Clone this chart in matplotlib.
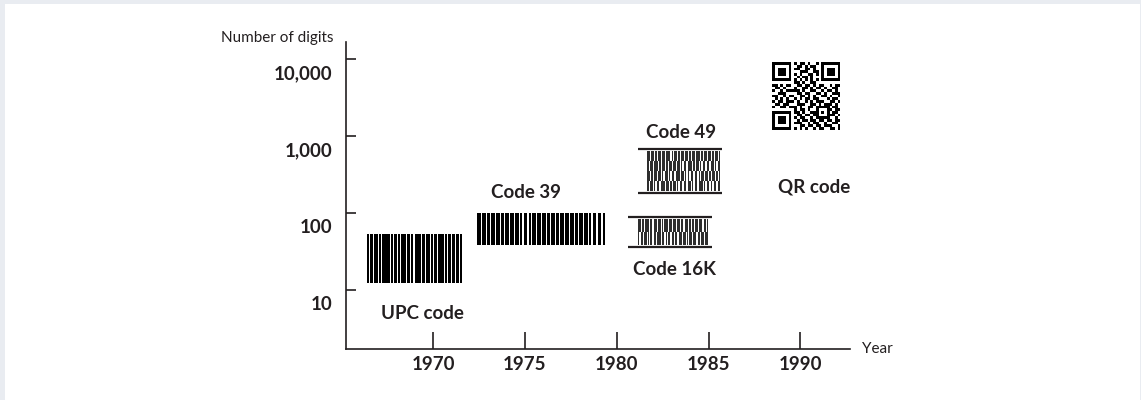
import numpy as np
import matplotlib
matplotlib.use('Agg')
import matplotlib.pyplot as plt
import matplotlib.transforms as mtransforms
from matplotlib.patches import Rectangle

plt.rcParams['font.family'] = ['Lato', 'DejaVu Sans']

# axis ticks
year_ticks = [1970, 1975, 1980, 1985, 1990]
digit_ticks = [10, 100, 1000, 10000]
digit_labels = ["10", "100", "1,000", "10,000"]

# symbologies: name, year span, digit span
codes = ["UPC code", "Code 39", "Code 16K", "Code 49", "QR code"]
code_years = [(1966.4, 1971.58), (1972.4, 1979.37), (1980.63, 1985.2), (1981.17, 1985.75), (1988.47, 1992.18)]
code_digits = [(12.3, 53.4), (38.4, 100), (36.1, 88.7), (182, 678), (1200, 9100)]

# bar patterns (1 = dark module)
upc_rows = ["1101110111101101111111101101110110111110111011011111101110111101101110111111011011101110111011"]
c39_rows = ["111011101101110111011011101110111011011101101110111011101101110110111011101110110111011101101110111011"]
c16k_rows = ["11011011101101110110101110110111011011011101011011011101101",
             "10110110101101101110110101101101101110110101101110110110111"]
c49_rows = ["110110101101101110101101011011010110111010110110101101",
            "101101110101101011011011010110111010110101101101101011",
            "110101101101011010110111011010101101101011011010110101",
            "101101011011101101011010110110110101101110101101011011"]
qr_rows = ["1111111010110100101111111",
           "1000001001101011001000001",
           "1011101011001101001011101",
           "1011101000111001101011101",
           "1011101010100110101011101",
           "1000001001011010001000001",
           "1111111010101010101111111",
           "0000000011010011000000000",
           "1101011001101101011001011",
           "0110100010011010110100110",
           "1001011111010011001011010",
           "0011100001101100110100111",
           "1100101100110101001101001",
           "0101010010101101100010110",
           "1011011101001010111001101",
           "0110110001110011010111010",
           "1001101110100110111110110",
           "0000000010110100100011011",
           "1111111011010011101010110",
           "1000001001101101100011101",
           "1011101010110010111110010",
           "1011101001011011011011011",
           "1011101011100101100100110",
           "1000001000110110110111001",
           "1111111010101001011001101"]

ink = "#231f20"

fig = plt.figure(figsize=(11.41, 4.0), dpi=100)
fig.patch.set_facecolor("#e9ecf1")
bg = Rectangle((5 / 1141, 0), 1135 / 1141, 396 / 400, transform=fig.transFigure,
               facecolor="white", edgecolor="none", zorder=-10)
fig.add_artist(bg)

ax = fig.add_axes([346 / 1141, 51 / 400, 504 / 1141, 307 / 400])
ax.patch.set_alpha(0)
ax.set_yscale("log")
ax.set_xlim(1965.26, 1992.7)
ax.set_ylim(1.71, 16630)

for s in ["top", "right"]:
    ax.spines[s].set_visible(False)
for s in ["left", "bottom"]:
    ax.spines[s].set_color(ink)
    ax.spines[s].set_linewidth(1.2)

ax.set_xticks(year_ticks)
ax.set_xticklabels([str(y) for y in year_ticks], fontsize=13.5, fontweight="bold", color=ink)
ax.set_yticks(digit_ticks)
ax.set_yticklabels(digit_labels, fontsize=13.5, fontweight="bold", color=ink)
ax.yaxis.set_minor_locator(matplotlib.ticker.NullLocator())
ax.tick_params(axis="x", direction="in", length=12.5, width=1.2, color=ink, pad=5)
ax.tick_params(axis="y", direction="in", length=7, width=1.2, color=ink, pad=10)
shift = mtransforms.ScaledTranslation(0, -13 / 100, fig.dpi_scale_trans)
for lab in ax.get_yticklabels():
    lab.set_transform(lab.get_transform() + shift)

ax.text(-0.0255, 1.012, "Number of digits", transform=ax.transAxes, ha="right", va="center",
        fontsize=11, color=ink)
ax.text(1.024, 0.0, "Year", transform=ax.transAxes, ha="left", va="center",
        fontsize=11, color=ink)


def draw_code(rows, years, digits, gray=1.0):
    m = np.array([[int(c) for c in r] for r in rows], dtype=float)[::-1] * gray
    xe = np.linspace(years[0], years[1], m.shape[1] + 1)
    ye = np.geomspace(digits[0], digits[1], m.shape[0] + 1)
    ax.pcolormesh(xe, ye, m, cmap="Greys", vmin=0, vmax=1, shading="flat",
                  antialiased=False, linewidth=0, zorder=3)


draw_code(upc_rows, code_years[0], code_digits[0])
draw_code(c39_rows, code_years[1], code_digits[1])

# stacked codes: bars sit between two rails
draw_code(c16k_rows, (1981.17, 1984.99), (38.5, 83.0), gray=0.85)
ax.hlines(code_digits[2], code_years[2][0], code_years[2][1], color=ink, lw=1.6, zorder=4)
draw_code(c49_rows, (1981.66, 1985.64), (195, 640), gray=0.85)
ax.hlines(code_digits[3], code_years[3][0], code_years[3][1], color=ink, lw=1.6, zorder=4)

draw_code(qr_rows, code_years[4], code_digits[4])

label_pos = [(1969.4, 5.0), (1975.07, 182), (1983.13, 18.2), (1983.52, 1094), (1990.76, 218)]
for name, (lx, ly) in zip(codes, label_pos):
    ax.text(lx, ly, name, ha="center", va="center", fontsize=13.5, fontweight="bold", color=ink)

fig.savefig("out.png", dpi=100, facecolor=fig.get_facecolor())
